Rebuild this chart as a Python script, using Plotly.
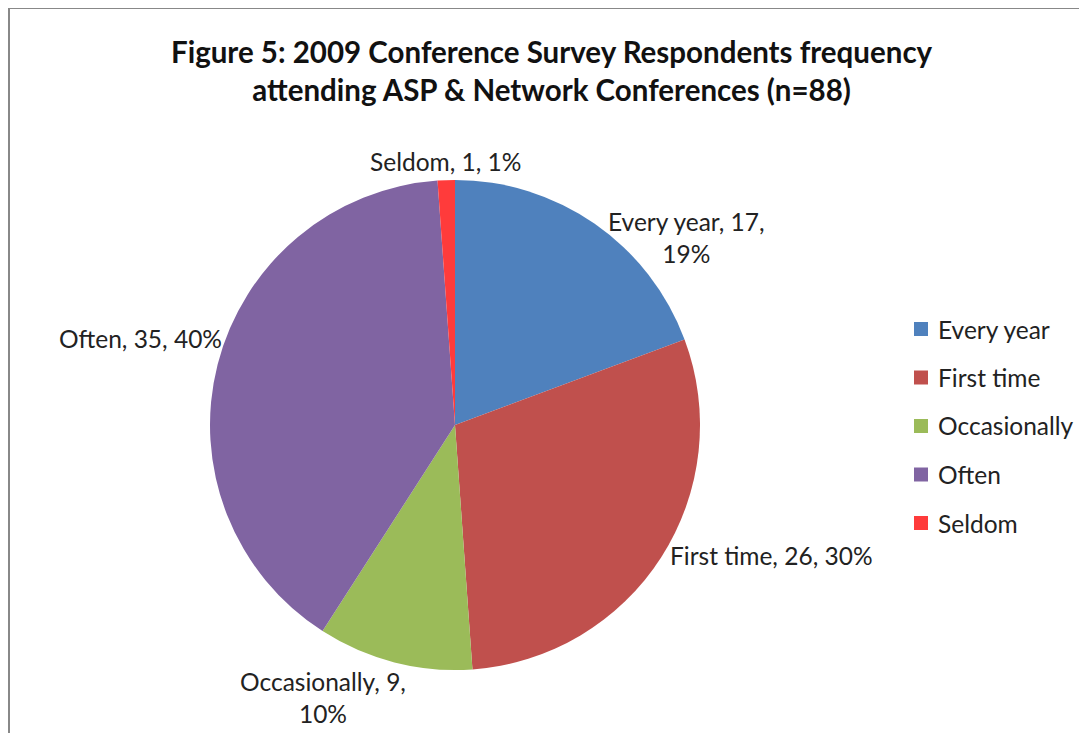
import plotly.graph_objects as go

categories = ["Every year", "First time", "Occasionally", "Often", "Seldom"]
counts = [17, 26, 9, 35, 1]
colors = ["#4F81BD", "#C0504D", "#9BBB59", "#8064A2", "#FF3B3B"]
title_lines = ["Figure 5: 2009 Conference Survey Respondents frequency",
               "attending ASP & Network Conferences (n=88)"]

OFF = 8  # page body margin in the browser
W, H = 1087 - OFF, 733 - OFF
FONT = "Lato"
total = sum(counts)
pcts = [round(c / total * 100) for c in counts]

# label layout (pixel centres in the screenshot) and line-break choice, per slice
label_px = [(686, 238), (771, 555), (323, 697), (140, 338), (445, 161)]
label_break = [True, False, True, False, False]

def px2paper(x, y):
    return (x - OFF) / W, 1 - (y - OFF) / H

cx, cy, r = 455, 425, 245
x0, y0 = px2paper(cx - r, cy + r)
x1, y1 = px2paper(cx + r, cy - r)

fig = go.Figure(go.Pie(
    labels=categories,
    values=counts,
    marker=dict(colors=colors, line=dict(width=0)),
    sort=False,
    direction="clockwise",
    rotation=0,
    textinfo="none",
    hoverinfo="label+value+percent",
    showlegend=False,
    domain=dict(x=[x0, x1], y=[y0, y1]),
))

annotations = []
for cat, cnt, p, (lx, ly), brk in zip(categories, counts, pcts, label_px, label_break):
    sep = ",<br>" if brk else ", "
    txt = f"{cat}, {cnt}{sep}{p}%"
    ax, ay = px2paper(lx, ly)
    annotations.append(dict(x=ax, y=ay, xref="paper", yref="paper", text=txt,
                            showarrow=False, xanchor="center", yanchor="middle",
                            font=dict(family=FONT, size=24.5, color="#222222")))

# title
tx, ty = px2paper(552, 70)
annotations.append(dict(x=tx, y=ty, xref="paper", yref="paper",
                        text="<b>" + "<br>".join(title_lines) + "</b>",
                        showarrow=False, xanchor="center", yanchor="middle",
                        font=dict(family=FONT, size=29.5, color="#111111")))

shapes = []
# legend built from categories
leg_top, leg_step, sq = 329, 48.5, 14
for i, (cat, col) in enumerate(zip(categories, colors)):
    yc = leg_top + i * leg_step
    sx0, sy0 = px2paper(914, yc + sq / 2)
    sx1, sy1 = px2paper(914 + sq, yc - sq / 2)
    shapes.append(dict(type="rect", xref="paper", yref="paper", x0=sx0, y0=sy0,
                       x1=sx1, y1=sy1, fillcolor=col, line=dict(width=0)))
    ax, ay = px2paper(936, yc)
    annotations.append(dict(x=ax, y=ay, xref="paper", yref="paper", text=cat,
                            showarrow=False, xanchor="left", yanchor="middle",
                            font=dict(family=FONT, size=24.5, color="#222222")))

# chart border (left and top visible)
bx, by = px2paper(9, 8)
shapes.append(dict(type="line", xref="paper", yref="paper", x0=bx, y0=by, x1=bx, y1=0,
                   line=dict(color="#888888", width=2)))
shapes.append(dict(type="line", xref="paper", yref="paper", x0=bx, y0=by, x1=1, y1=by,
                   line=dict(color="#888888", width=2)))

fig.update_layout(
    width=W, height=H,
    margin=dict(l=0, r=0, t=0, b=0),
    paper_bgcolor="white", plot_bgcolor="white",
    annotations=annotations, shapes=shapes,
    font=dict(family=FONT),
)

fig.write_html("out.html")
